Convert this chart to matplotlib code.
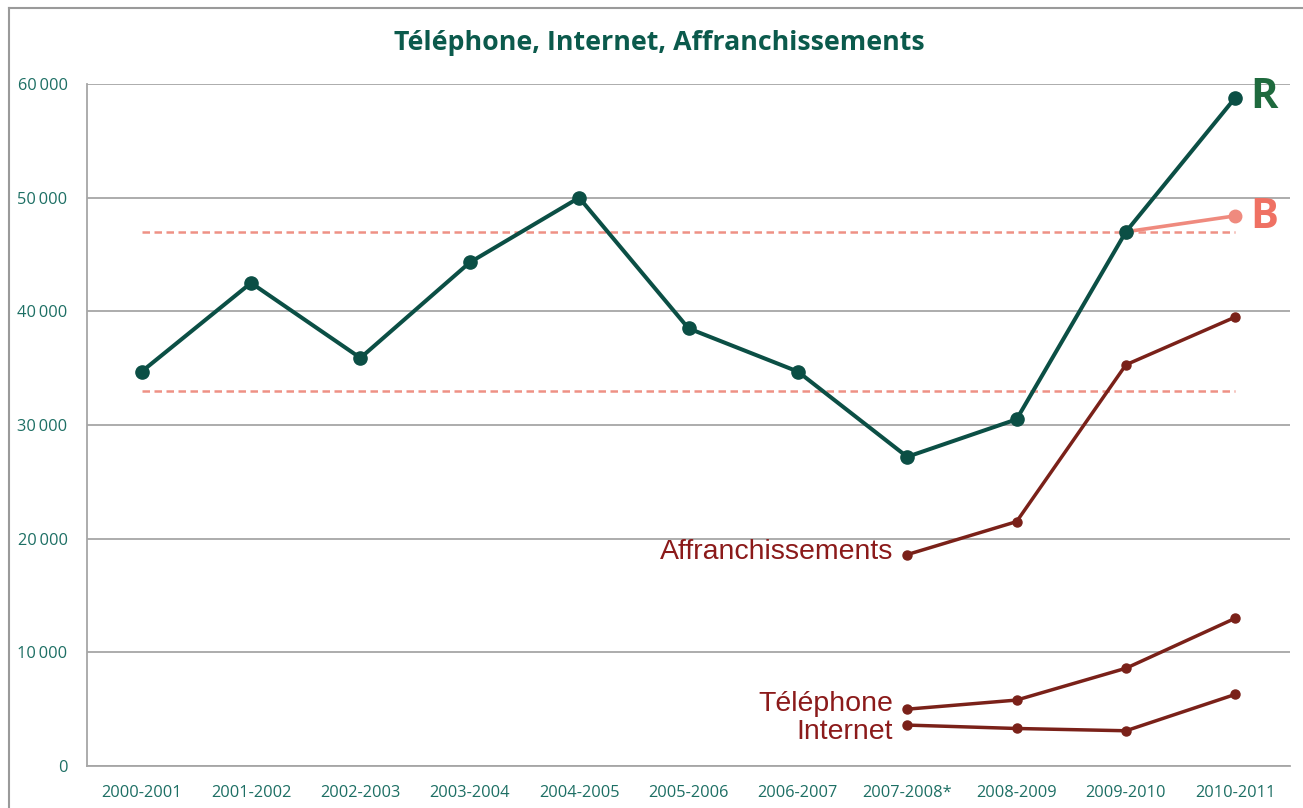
import matplotlib
matplotlib.use('Agg')
from matplotlib import pyplot as plt
from matplotlib.ticker import FuncFormatter, MultipleLocator
from matplotlib.lines import Line2D

plt.rcParams['font.family'] = ['Open Sans', 'DejaVu Sans']

# données
annees = ['2000-2001', '2001-2002', '2002-2003', '2003-2004', '2004-2005',
          '2005-2006', '2006-2007', '2007-2008*', '2008-2009', '2009-2010', '2010-2011']
total_r = [34700, 42500, 35900, 44300, 50000, 38500, 34700, 27200, 30500, 47000, 58800]
budget_b = [47000, 48400]            # 2009-2010 -> 2010-2011
seuil_haut = 47000
seuil_bas = 33000
affranchissements = [18600, 21500, 35300, 39500]   # depuis 2007-2008*
telephone = [5000, 5800, 8600, 13000]
internet = [3600, 3300, 3100, 6300]

vert = '#0b4f45'
teal = '#1d6f64'
rouge = '#7a2119'
saumon = '#ee9185'

fig = plt.figure(figsize=(13.03, 8.08), dpi=100)
ax = fig.add_axes([87 / 1303, 1 - 766 / 808, (1290 - 87) / 1303, (766 - 84) / 808])

x = list(range(len(annees)))
x_fin = x[7:]

# lignes de référence pointillées
ax.plot([x[0], x[-1]], [seuil_haut, seuil_haut], linestyle=(0, (3, 1.8)), color=saumon, lw=1.8, zorder=2)
ax.plot([x[0], x[-1]], [seuil_bas, seuil_bas], linestyle=(0, (3, 1.8)), color=saumon, lw=1.8, zorder=2)

# B
ax.plot(x[9:], budget_b, color='#ef8a7e', lw=2.6, marker='o', ms=9, zorder=3)
# R
ax.plot(x, total_r, color=vert, lw=2.9, marker='o', ms=9.5, zorder=4)

ax.plot(x_fin, affranchissements, color=rouge, lw=2.5, marker='o', ms=6.5, zorder=3)
ax.plot(x_fin, telephone, color=rouge, lw=2.5, marker='o', ms=6.5, zorder=3)
ax.plot(x_fin, internet, color=rouge, lw=2.5, marker='o', ms=6.5, zorder=3)

lab = dict(color='#8b1a1a', fontsize=20.5, family=['Liberation Sans', 'DejaVu Sans'],
           ha='right', va='center', textcoords='offset points')
ax.annotate('Affranchissements', (x[7], affranchissements[0]), xytext=(-10, 2), **lab)
ax.annotate('Téléphone', (x[7], telephone[0]), xytext=(-10, 4), **lab)
ax.annotate('Internet', (x[7], internet[0]), xytext=(-10, -5), **lab)

ax.annotate('R', (x[-1], total_r[-1]), xytext=(11, 0), textcoords='offset points',
            ha='left', va='center', fontsize=30, fontweight='bold', color='#1f6a3e')
ax.annotate('B', (x[-1], budget_b[-1]), xytext=(11, -1), textcoords='offset points',
            ha='left', va='center', fontsize=30, fontweight='bold', color='#ef7163')

ax.set_xlim(-0.5, len(annees) - 0.5)
ax.set_ylim(0, 60000)
ax.yaxis.set_major_locator(MultipleLocator(10000))
ax.yaxis.set_major_formatter(FuncFormatter(lambda v, p: f'{int(v):,}'.replace(',', '\u2009')))
ax.set_xticks(x)
ax.set_xticklabels(annees)
ax.tick_params(axis='both', length=0, labelcolor=teal, labelsize=11.8)
ax.tick_params(axis='x', pad=14)
ax.tick_params(axis='y', pad=14)

ax.grid(axis='y', color='#a6a6a6', lw=1.3)
ax.set_axisbelow(True)
for s in ['top', 'right']:
    ax.spines[s].set_visible(False)
ax.spines['left'].set_color('#a6a6a6')
ax.spines['bottom'].set_color('#a6a6a6')
ax.spines['left'].set_linewidth(1.3)
ax.spines['bottom'].set_linewidth(1.3)

fig.text(0.506, 1 - 43 / 808, 'Téléphone, Internet, Affranchissements', ha='center', va='center',
         fontsize=19.3, fontweight='bold', color='#0b5a4c')

# cadre du graphique
fig.add_artist(Line2D([9 / 1303, 9 / 1303], [0, 1 - 8 / 808], color='#9a9a9a', lw=1.5))
fig.add_artist(Line2D([9 / 1303, 1], [1 - 8 / 808, 1 - 8 / 808], color='#9a9a9a', lw=1.5))

plt.savefig('out.png', dpi=100)
